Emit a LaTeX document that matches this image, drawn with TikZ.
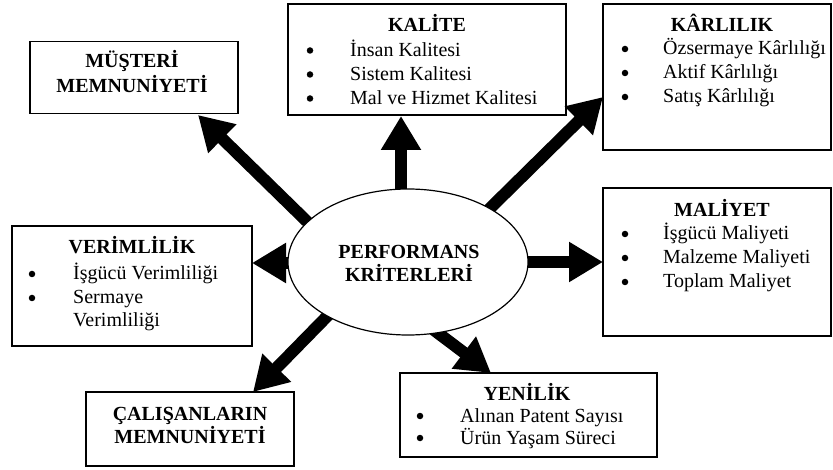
\documentclass[tikz,border=0pt]{standalone}
\usepackage{fontspec}
\setmainfont{Liberation Serif}
\usetikzlibrary{arrows.meta,shapes.geometric}
\pgfdeclarelayer{background}
\pgfsetlayers{background,main}
\begin{document}
\begin{tikzpicture}[x=1pt,y=-1pt,
 box/.style={draw, line width=1.5pt, inner sep=0pt},
 ttl/.style={font=\bfseries\fontsize{20}{24}\selectfont, anchor=base, inner sep=0pt},
 itm/.style={font=\fontsize{20}{24}\selectfont, anchor=base west, inner sep=0pt},
 dot/.style={circle, fill=black, inner sep=0pt, minimum size=6.5pt},
 bigarrow/.style={line width=12pt, -{Triangle[length=34pt,width=38pt]}},
 perfstyle/.style={ellipse, draw, line width=1.2pt, fill=white, minimum width=240pt, minimum height=146pt, inner sep=0pt}]
\useasboundingbox (0,0) rectangle (833,470);

% boxes
\node[box, minimum width=208pt, minimum height=72pt] (mus) at (134,77.5) {};
\node[box, minimum width=278pt, minimum height=111pt] (kal) at (427,59.5) {};
\node[box, minimum width=228pt, minimum height=146pt] (kar) at (717,77) {};
\node[box, minimum width=228pt, minimum height=148pt] (mal) at (717,262) {};
\node[box, minimum width=240pt, minimum height=120pt] (ver) at (132,286) {};
\node[box, minimum width=208pt, minimum height=74pt] (cal) at (190,429) {};
\node[box, minimum width=257pt, minimum height=84pt] (yen) at (528.5,415) {};

% central ellipse
\node[perfstyle] (perf) at (408,262) {};
\node[ttl] (perf1) at (409,259) {PERFORMANS};
\node[ttl] (perf2) at (409,282) {KRİTERLERİ};

% MÜŞTERİ
\node[ttl] (mus1) at (132,68) {MÜŞTERİ};
\node[ttl] (mus2) at (132,93) {MEMNUNİYETİ};

% KALİTE
\node[ttl] (kalt) at (427,32) {KALİTE};
\node[dot] (kalb1) at (310,50.5) {};
\node[itm] (kali1) at (350,56.5) {İnsan Kalitesi};
\node[dot] (kalb2) at (310,74.5) {};
\node[itm] (kali2) at (350,80.5) {Sistem Kalitesi};
\node[dot] (kalb3) at (310,98.5) {};
\node[itm] (kali3) at (350,104.5) {Mal ve Hizmet Kalitesi};

% KÂRLILIK
\node[ttl] (kart) at (722,32) {KÂRLILIK};
\node[dot] (karb1) at (625,49) {};
\node[itm] (kari1) at (663,55) {Özsermaye Kârlılığı};
\node[dot] (karb2) at (625,73) {};
\node[itm] (kari2) at (663,79) {Aktif Kârlılığı};
\node[dot] (karb3) at (625,97) {};
\node[itm] (kari3) at (663,103) {Satış Kârlılığı};

% MALİYET
\node[ttl] (malt) at (722,217) {MALİYET};
\node[dot] (malb1) at (625,234) {};
\node[itm] (mali1) at (663,240) {İşgücü Maliyeti};
\node[dot] (malb2) at (625,258) {};
\node[itm] (mali2) at (663,264) {Malzeme Maliyeti};
\node[dot] (malb3) at (625,282) {};
\node[itm] (mali3) at (663,288) {Toplam Maliyet};

% VERİMLİLİK
\node[ttl] (vert) at (132,254) {VERİMLİLİK};
\node[dot] (verb1) at (32,274) {};
\node[itm] (veri1) at (73,280) {İşgücü Verimliliği};
\node[dot] (verb2) at (32,298) {};
\node[itm] (veri2) at (73,304) {Sermaye};
\node[itm] (veri3) at (73,327) {Verimliliği};

% ÇALIŞANLARIN
\node[ttl] (cal1) at (190,420) {ÇALIŞANLARIN};
\node[ttl] (cal2) at (190,443) {MEMNUNİYETİ};

% YENİLİK
\node[ttl] (yent) at (527,400) {YENİLİK};
\node[dot] (yenb1) at (420,416) {};
\node[itm] (yeni1) at (460,422) {Alınan Patent Sayısı};
\node[dot] (yenb2) at (420,438) {};
\node[itm] (yeni2) at (460,444) {Ürün Yaşam Süreci};

% arrow end points
\coordinate (s1) at (329,243); \coordinate (t1) at (198,115);
\coordinate (s2) at (401,215); \coordinate (t2) at (401,116);
\coordinate (s3) at (471,227); \coordinate (t3) at (603,97);
\coordinate (s4) at (500,262); \coordinate (t4) at (603,262);
\coordinate (s5) at (320,263); \coordinate (t5) at (252,263);
\coordinate (s6) at (347,296); \coordinate (t6) at (253,392);
\coordinate (s7) at (418,318); \coordinate (t7) at (491,373);

\begin{pgfonlayer}{background}
\draw[bigarrow] (s1) -- (t1);
\draw[bigarrow] (s2) -- (t2);
\draw[bigarrow] (s3) -- (t3);
\draw[bigarrow] (s4) -- (t4);
\draw[bigarrow] (s5) -- (t5);
\draw[bigarrow] (s6) -- (t6);
\draw[bigarrow] (s7) -- (t7);
\end{pgfonlayer}
\end{tikzpicture}
\end{document}
